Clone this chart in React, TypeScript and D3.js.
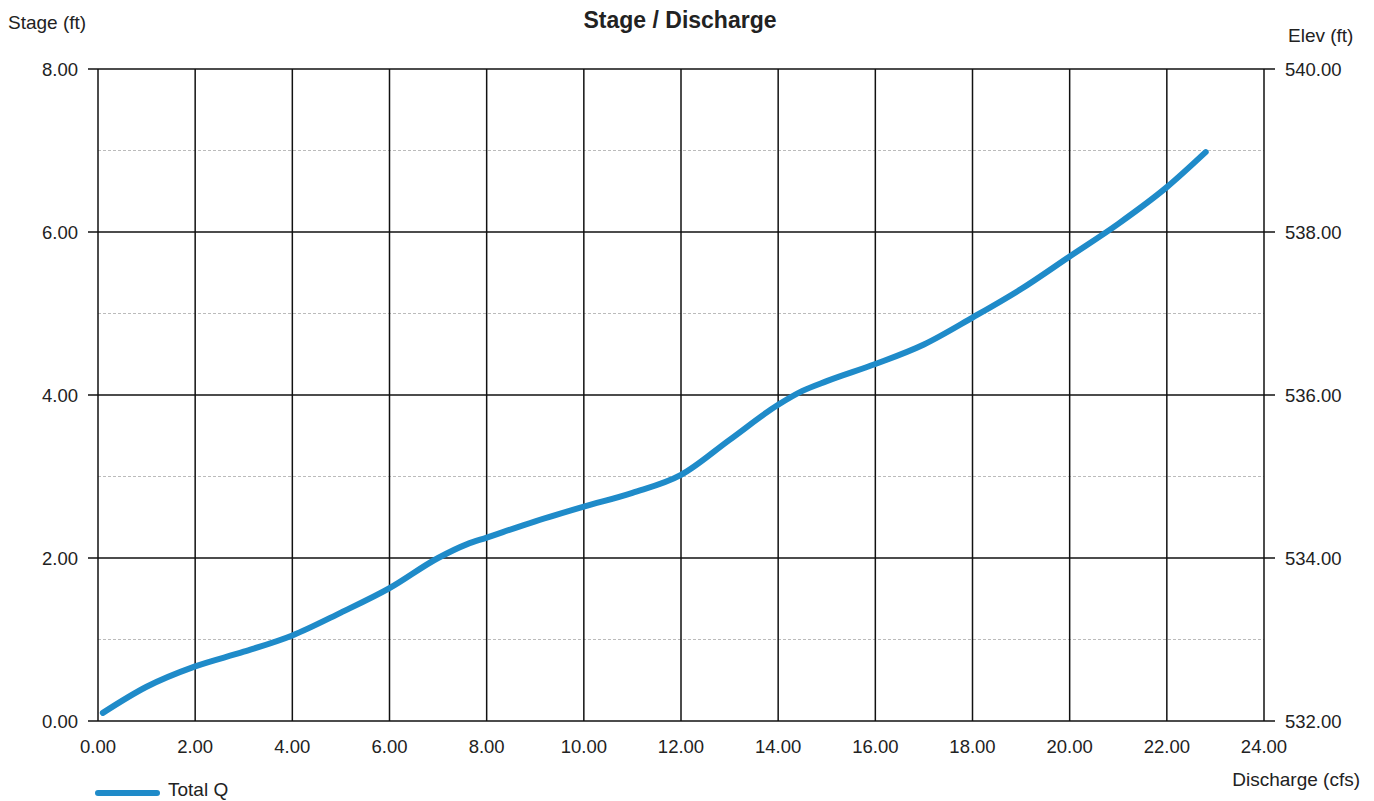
import React from "react";
import * as d3 from "d3";

const discharge = [0.1, 1, 2, 3, 4, 5, 6, 7, 7.6, 8, 9, 10, 11, 12, 13, 14, 14.5, 15, 16, 17, 18, 19, 20, 21, 22, 22.8];
const stage = [0.1, 0.42, 0.67, 0.85, 1.05, 1.33, 1.63, 2.0, 2.17, 2.25, 2.45, 2.63, 2.8, 3.02, 3.45, 3.88, 4.05, 4.17, 4.38, 4.62, 4.95, 5.3, 5.7, 6.1, 6.55, 6.98];
const xTicks = [0, 2, 4, 6, 8, 10, 12, 14, 16, 18, 20, 22, 24];
const yTicks = [0, 2, 4, 6, 8];
const yMinor = [1, 3, 5, 7];
const elevTicks = [532, 534, 536, 538, 540];

const W = 1374, H = 801;
const m = { left: 98, right: 1264, top: 69, bottom: 721 };
const font = "'Liberation Sans', Arial, sans-serif";

export default function App() {
  const x = d3.scaleLinear().domain([0, 24]).range([m.left, m.right]);
  const y = d3.scaleLinear().domain([0, 8]).range([m.bottom, m.top]);
  const yE = d3.scaleLinear().domain([532, 540]).range([m.bottom, m.top]);
  const pts = discharge.map((d, i) => [d, stage[i]] as [number, number]);
  const line = d3.line<[number, number]>().x(d => x(d[0])).y(d => y(d[1])).curve(d3.curveMonotoneX);

  return (
    <svg width={W} height={H} style={{ position: "absolute", left: 0, top: 0, background: "#fff" }} fontFamily={font}>
      <rect width={W} height={H} fill="#fff" />
      <text x={680} y={28} textAnchor="middle" fontSize={23} fontWeight="bold" fill="#222">Stage / Discharge</text>
      <text x={8} y={29} fontSize={19} fill="#222">Stage (ft)</text>
      <text x={1288} y={42} fontSize={19} fill="#222">Elev (ft)</text>
      <text x={1360} y={786} textAnchor="end" fontSize={19} fill="#222">Discharge (cfs)</text>

      {yMinor.map(v => (
        <line key={"m" + v} x1={m.left} x2={m.right} y1={y(v)} y2={y(v)} stroke="#bbb" strokeWidth={1} strokeDasharray="3,2" />
      ))}
      {yTicks.map(v => (
        <line key={"h" + v} x1={m.left - 10} x2={m.right + 11} y1={y(v)} y2={y(v)} stroke="#111" strokeWidth={1.5} />
      ))}
      {xTicks.map(v => (
        <line key={"v" + v} x1={x(v)} x2={x(v)} y1={m.top} y2={m.bottom} stroke="#111" strokeWidth={1.5} />
      ))}

      {yTicks.map(v => (
        <text key={"yl" + v} x={78} y={y(v) + 7} textAnchor="end" fontSize={18.5} fill="#222">{v.toFixed(2)}</text>
      ))}
      {elevTicks.map(v => (
        <text key={"el" + v} x={1285} y={yE(v) + 7} fontSize={18.5} fill="#222">{v.toFixed(2)}</text>
      ))}
      {xTicks.map(v => (
        <text key={"xl" + v} x={x(v)} y={753} textAnchor="middle" fontSize={18.5} fill="#222">{v.toFixed(2)}</text>
      ))}

      <path d={line(pts) || ""} fill="none" stroke="#1f8bc9" strokeWidth={6} strokeLinecap="round" strokeLinejoin="round" />

      <line x1={98} x2={157} y1={793} y2={793} stroke="#1f8bc9" strokeWidth={6} strokeLinecap="round" />
      <text x={168} y={796} fontSize={19} fill="#222">Total Q</text>
    </svg>
  );
}
